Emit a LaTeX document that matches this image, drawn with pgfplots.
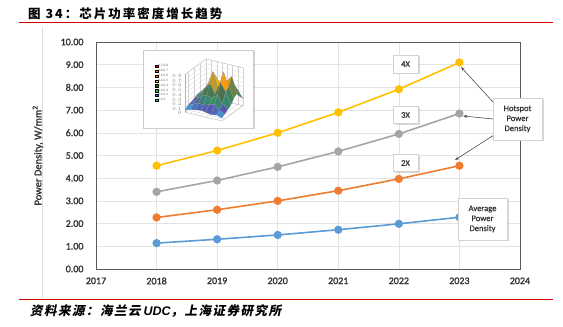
\documentclass[border=0pt]{standalone}
\usepackage{pgfplots}
\pgfplotsset{compat=1.18}
\usepackage{fontspec}
\setmainfont{Carlito}
\newfontfamily\boldf{Carlito}[FakeBold=1.6]
\newfontfamily\semif{Carlito}[FakeBold=0.6]
\newfontfamily\cjktitle{Noto Sans CJK SC}[LetterSpace=16]
\newfontfamily\cjksrc{Noto Sans CJK SC}[FakeSlant=0.2,LetterSpace=12]
\newfontfamily\latsrc{Liberation Sans}
\usetikzlibrary{shadows,arrows.meta}
\definecolor{cyel}{HTML}{FFC000}
\definecolor{cgry}{HTML}{A5A5A5}
\definecolor{corg}{HTML}{ED7D31}
\definecolor{cblu}{HTML}{5B9BD5}
\definecolor{txt}{HTML}{333333}

\pgfplotstableread{
year hot4 hot3 hot2 avg
2018 4.55 3.40 2.27 1.14
2019 5.22 3.90 2.61 1.31
2020 6.00 4.50 3.00 1.50
2021 6.90 5.18 3.45 1.73
2022 7.92 5.95 3.97 1.99
2023 9.10 6.85 4.55 2.28
}\maindata

\begin{document}
\begin{tikzpicture}[x=1pt,y=1pt]
\useasboundingbox (0,0) rectangle (563,327);
% header / footer
\node[anchor=west,inner sep=0] at (28,313) {\cjktitle\bfseries\fontsize{12.5}{14}\selectfont 图 34：芯片功率密度增长趋势};
\draw[red!85!black,line width=0.9pt] (19,305) -- (553,305);
\draw[red!85!black,line width=0.9pt] (19,28) -- (553,28);
\node[anchor=west,inner sep=0] at (30,16) {\fontsize{12.5}{14}\selectfont{\cjksrc\bfseries 资料来源：海兰云}\ {\latsrc\bfseries\itshape UDC}{\cjksrc\bfseries ，上海证券研究所}};
\draw[gray!25,line width=0.6pt] (42,300) -- (42,29);

\begin{axis}[
  at={(96pt,58pt)}, anchor=south west,
  width=424pt, height=227pt, scale only axis,
  xmin=2017, xmax=2024, ymin=0, ymax=10,
  xtick={2017,...,2024}, ytick={0,...,10},
  grid=major, grid style={gray!22,line width=0.5pt},
  axis line style={gray!70!black,line width=0.9pt},
  major tick length=0pt,
  /pgf/number format/assume math mode=true,
  xticklabel style={/pgf/number format/1000 sep={}},
  yticklabel style={/pgf/number format/.cd,fixed,fixed zerofill,precision=2},
  ticklabel style={font=\boldf\fontsize{10}{12}\selectfont, text=txt},
  xticklabel shift=5pt, yticklabel shift=9pt,
  ylabel={Power Density, W/mm\textsuperscript{2}},
  ylabel style={font=\boldf\fontsize{10.5}{12}\selectfont, text=txt, at={(axis description cs:-0.137,0.5)}, anchor=center},
  every axis plot/.append style={line width=1.6pt, mark=*, mark size=3.3pt},
]
\addplot[color=cyel] table[x=year,y=hot4] {\maindata};
\addplot[color=cgry] table[x=year,y=hot3] {\maindata};
\addplot[color=corg] table[x=year,y=hot2] {\maindata};
\addplot[color=cblu] table[x=year,y=avg] {\maindata};
\end{axis}

% inset picture
\fill[white,drop shadow={shadow xshift=1.5pt,shadow yshift=-1.5pt,opacity=0.35}] (143,199) rectangle (253,277);
\draw[gray!40,line width=0.4pt] (143,199) rectangle (253,277);
\begin{axis}[
  at={(185pt,206pt)}, anchor=south west,
  width=58pt, height=62pt, scale only axis,
  view={30}{25},
  xmin=1, xmax=8, ymin=1, ymax=8, zmin=0, zmax=0.8,
  grid=major, grid style={gray!35,line width=0.2pt},
  axis line style={gray!60,line width=0.3pt},
  major tick length=0pt,
  xtick={1,2,...,8}, ytick={2,4,6,8}, ztick={0,0.1,...,0.8},
  ticklabel style={font=\fontsize{2.3}{2.5}\selectfont, text=gray},
  xticklabels={}, yticklabels={},
  zticklabel style={/pgf/number format/.cd,fixed,precision=1},
  colormap={ins}{color=(cyan!80!white) color=(blue!75!white) color=(green!80!black) color=(green!45!black) color=(orange!70!yellow) color=(orange) color=(red)},
  legend image code/.code={\fill[#1] (0pt,-1.1pt) rectangle (2.6pt,1.3pt);},
  legend style={at={(-0.52,0.92)}, anchor=north west, draw=none, fill=none,
     font=\fontsize{3.4}{3.8}\selectfont, row sep=0.5pt, inner sep=0pt,
     nodes={inner sep=0.3pt, text=black!60}},
  legend cell align=left,
]
\addlegendimage{fill=red}\addlegendentry{0.7-0.8}
\addlegendimage{fill=orange!80!red}\addlegendentry{0.6-0.7}
\addlegendimage{fill=orange}\addlegendentry{0.5-0.6}
\addlegendimage{fill=yellow!80!orange}\addlegendentry{0.4-0.5}
\addlegendimage{fill=green!45!black}\addlegendentry{0.3-0.4}
\addlegendimage{fill=green!80!black}\addlegendentry{0.2-0.3}
\addlegendimage{fill=blue!75!white}\addlegendentry{0.1-0.2}
\addlegendimage{fill=cyan!80!white}\addlegendentry{0-0.1}
\addplot3[surf, shader=flat, draw=black!40, line width=0.1pt, mesh/rows=8, point meta=z] table {
1 1 0.05
2 1 0.08
3 1 0.10
4 1 0.12
5 1 0.10
6 1 0.08
7 1 0.10
8 1 0.06
1 2 0.10
2 2 0.15
3 2 0.20
4 2 0.18
5 2 0.22
6 2 0.25
7 2 0.15
8 2 0.10
1 3 0.12
2 3 0.20
3 3 0.30
4 3 0.35
5 3 0.30
6 3 0.40
7 3 0.25
8 3 0.15
1 4 0.15
2 4 0.25
3 4 0.40
4 4 0.55
5 4 0.35
6 4 0.62
7 4 0.45
8 4 0.20
1 5 0.18
2 5 0.30
3 5 0.45
4 5 0.75
5 5 0.40
6 5 0.80
7 5 0.50
8 5 0.30
1 6 0.15
2 6 0.28
3 6 0.50
4 6 0.60
5 6 0.45
6 6 0.55
7 6 0.68
8 6 0.35
1 7 0.12
2 7 0.22
3 7 0.35
4 7 0.40
5 7 0.38
6 7 0.42
7 7 0.45
8 7 0.30
1 8 0.10
2 8 0.15
3 8 0.20
4 8 0.25
5 8 0.22
6 8 0.25
7 8 0.20
8 8 0.15
};
\end{axis}

% callouts
\tikzset{callout/.style={draw=gray!35, fill=white, line width=0.4pt, text=txt,
  drop shadow={shadow xshift=1.5pt,shadow yshift=-1.5pt,opacity=0.3},
  font=\semif\fontsize{8.5}{10}\selectfont, align=center, inner sep=0pt},
  arr/.style={draw=gray!60!black, line width=0.6pt, -{Stealth[length=4pt,width=3pt]}}}
\node[callout, minimum width=25pt, minimum height=18pt] at (405.5,263) {4X};
\node[callout, minimum width=25pt, minimum height=17pt] at (405.5,212) {3X};
\node[callout, minimum width=25pt, minimum height=17pt] at (405.5,164) {2X};
\draw[arr] (493,225) -- (461,260);
\draw[arr] (493,208) -- (463,211);
\draw[arr] (494,192) -- (455,167);
\node[callout, minimum width=49pt, minimum height=42pt] at (517.5,208) {Hotspot\\Power\\Density};
\node[callout, minimum width=49pt, minimum height=42pt] at (482.5,108) {Average\\Power\\Density};
\end{tikzpicture}
\end{document}
